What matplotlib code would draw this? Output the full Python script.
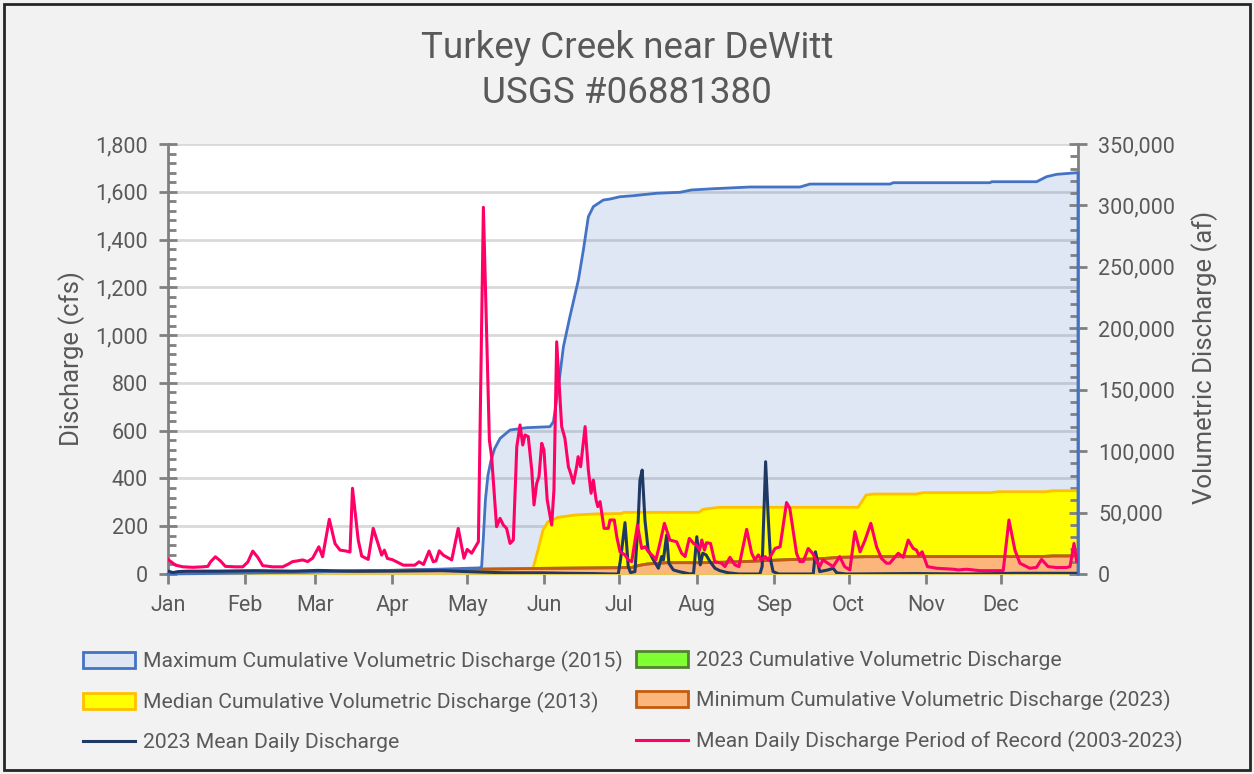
import matplotlib
matplotlib.use("Agg")
import matplotlib.pyplot as plt
from matplotlib.patches import Patch, Rectangle
from matplotlib.lines import Line2D
from matplotlib.ticker import MultipleLocator, FuncFormatter

plt.rcParams['font.family'] = ['Roboto', 'DejaVu Sans']

# ---- data (day of year from Jan 1, value) ----
month_labels = ["Jan", "Feb", "Mar", "Apr", "May", "Jun",
                "Jul", "Aug", "Sep", "Oct", "Nov", "Dec"]
month_start_days = [0, 31, 59, 90, 120, 151, 181, 212, 243, 273, 304, 334]

# Maximum cumulative volumetric discharge, 2015 (af)
max_cum_days = [0, 31, 59, 90, 110, 125, 125.8, 126.5, 127.3, 128.3, 129.5, 131,
                133.2, 137.2, 143.9, 153.2, 154.6, 156.6, 158.6, 161.2, 164.6,
                166.6, 168.6, 170.6, 174.6, 177.3, 181.3, 186.6, 189.3, 196, 205.4,
                210, 218.7, 233.4, 253.5, 257.5, 289.6, 290.9, 329.7, 330.4, 348.4,
                352.4, 356.4, 365]
max_cum_af = [0, 800, 1800, 3000, 4000, 5000, 5900, 30000, 60000, 80000, 92000, 102000,
              110400, 117200, 119100, 119900, 124000, 152500, 185000, 209400, 239300,
              263700, 290800, 299000, 304400, 305200, 307100, 307900, 308500, 309900, 310700,
              312600, 313600, 315000, 315000, 317400, 317400, 318500, 318500, 319300, 319300,
              323400, 325300, 326700]

# Median cumulative volumetric discharge, 2013 (af)
median_cum_days = [0, 31, 59, 90, 120, 146.4, 148.4, 150.4, 152.4, 156.4, 163.1, 172.5,
                   181.7, 183, 213, 214.5, 221, 276.8, 280, 283, 300, 303, 330, 333,
                   352, 355, 365]
median_cum_af = [0, 900, 1900, 3000, 4000, 4600, 19500, 35800, 42600, 46100, 48000, 49000,
                 49200, 50200, 50200, 52600, 54300, 54300, 64300, 65100, 65100, 66200, 66200,
                 67000, 67000, 67800, 67800]

# Minimum cumulative volumetric discharge (2023) -- also the 2023 cumulative series
min_cum_days = [0, 31, 59, 90, 120, 150, 180, 186, 189, 192, 200, 215, 230, 245, 262,
                270, 280, 350, 355, 365]
min_cum_af = [0, 900, 1800, 2800, 3800, 4600, 5100, 5300, 7000, 8100, 9200, 9200, 10000,
              11400, 12500, 13600, 14100, 14200, 14700, 14700]
cum_2023_days = list(min_cum_days)
cum_2023_af = list(min_cum_af)

# 2023 mean daily discharge (cfs)
daily_2023_days = [0, 2, 4, 8, 20, 35, 50, 60, 75, 90, 110, 120, 126, 135, 150, 160, 170,
                   178, 180.6, 181.5, 183.3, 184.6, 185.5, 187.3, 188.6, 189.3, 190.2, 191.3,
                   192.6, 194.7, 196.7, 198, 198.7, 200, 200.9, 202.7, 205, 209.4, 210.8,
                   212.1, 213.5, 214.5, 215.8, 217.4, 219.4, 221.3, 224.7, 229, 237.4, 238.3,
                   239.7, 240.8, 241.7, 242.7, 245, 258.8, 259.7, 261.4, 264.7, 266.8, 268.2,
                   272, 300, 320, 340, 364]
daily_2023_cfs = [12, 6, 10, 12, 12, 14, 12, 15, 12, 12, 14, 10, 8, 5, 5, 3, 2,
                  0, 0, 60, 215, 31, 6, 10, 226, 393, 435, 226,
                  100, 59, 24, 73, 59, 163, 45, 17, 10, 0, 3,
                  156, 38, 87, 80, 52, 24, 14, 5, 0, 0, 31,
                  470, 226, 59, 10, 0, 0, 93, 10, 17, 24, 5,
                  0, 2, 0, 3, 3]

# Mean daily discharge, period of record 2003-2023 (cfs)
por_days = [0, 3, 6, 10, 14, 16, 17, 19, 21, 23, 27, 30, 32, 34, 36, 38, 42, 46, 48, 50,
            52, 54, 56, 58, 60.5, 62, 64.7, 67, 69, 71.5, 73, 74, 76.3, 77.7, 80.3, 82.3,
            85.7, 86.8, 88, 90, 91.7, 94.4, 99, 100.7, 102.5, 104.7, 106.4, 107.5, 108.8,
            110.4, 113.8, 116.4, 118.7, 120, 121.8, 124.5, 126.5, 128.9, 129.8, 131.8, 133.2,
            134.5, 135.8, 137.2, 138.5, 139.9, 141.2, 142.3, 143.2, 144.5, 145.9, 146.8,
            147.9, 148.8, 149.9, 150.8, 152.1, 153.9, 154.8, 155.9, 157.9, 159.2, 160.6,
            161.5, 162.6, 163.9, 164.5, 165.5, 167.3, 168.6, 169.7, 170.6, 171.7, 172.4,
            173.3, 174.9, 176.6, 177.3, 179, 180, 181.3, 183.3, 184.6, 186, 188.3, 190,
            191.4, 192.7, 194.7, 195.7, 197.3, 199.1, 200, 201.3, 204, 206, 207.4, 209.1,
            210.8, 212, 213.2, 214.1, 215.2, 216, 217.6, 219.3, 222, 223.4, 225.4, 227.4,
            229, 232.1, 234.1, 235.4, 236.8, 238, 239.5, 240.8, 243.5, 245.5, 248.1, 249.4,
            252.1, 253.4, 254.8, 256.8, 258.5, 261.4, 262.7, 264.7, 266.8, 269.4, 271.4,
            273.5, 275.5, 277.6, 279.6, 281.9, 284.2, 286.2, 288.2, 289.5, 291.5, 292.9,
            294.9, 296.9, 298.9, 300.2, 301.2, 302.5, 304.6, 308.3, 315, 317, 320.3, 325.6,
            335, 337.3, 339.7, 341.7, 345.7, 348.4, 350.4, 353, 356.4, 360.4, 361.8, 363.4,
            364.5]
por_cfs = [61, 37, 30, 28, 30, 32, 50, 72, 55, 32, 30, 30, 50, 96, 70, 35, 30, 30, 40, 52,
           55, 59, 52, 66, 114, 72, 229, 127, 100, 96, 92, 359, 142, 75, 61, 191,
           79, 100, 65, 60, 51, 37, 37, 51, 40, 96, 51, 55, 97,
           79, 59, 191, 66, 103, 87, 135, 1535, 561, 491, 198, 233,
           205, 191, 128, 142, 533, 624, 540, 582, 575, 435, 289,
           380, 408, 547, 519, 310, 205, 352, 972, 617, 568, 449,
           421, 380, 449, 491, 449, 617, 435, 338, 393, 310, 282,
           303, 191, 191, 226, 226, 156, 93, 80, 59, 52, 205, 107,
           114, 93, 73, 59, 128, 212, 184, 142, 135, 87, 73, 149,
           128, 121, 100, 142, 100, 131, 128, 52, 45, 31, 70, 38,
           31, 187, 87, 59, 80, 59, 73, 59, 107, 114, 299, 275,
           87, 52, 52, 107, 87, 31, 59, 45, 31, 73, 31,
           17, 177, 93, 142, 212, 114, 65, 45, 45, 70, 87,
           70, 142, 107, 100, 79, 93, 31, 24, 20, 17, 20, 14,
           14, 226, 100, 45, 24, 28, 61, 31, 27, 27, 31, 128,
           52]

# ---- styling ----
TEXT = "#595959"
AXIS = "#808080"
GRID = "#d9d9d9"
BLUE, BLUE_FILL = "#4472c4", "#4472c4"
YELLOW, YELLOW_EDGE = "#ffff00", "#ffc000"
ORANGE, ORANGE_EDGE = "#fcb67c", "#c55a11"
GREEN, GREEN_EDGE = "#80ff33", "#548235"
NAVY = "#203864"
PINK = "#ff0066"

W, H = 1254, 774
fig = plt.figure(figsize=(W / 100, H / 100), dpi=100, facecolor="#f2f2f2")

ax_l, ax_r, ax_b, ax_t = 168 / W, 1078 / W, 1 - 574 / H, 1 - 144 / H
ax = fig.add_axes([ax_l, ax_b, ax_r - ax_l, ax_t - ax_b])     # cfs scale, grid
ax.set_facecolor("white")
ax_af = ax.twinx()                                              # af scale, areas
ax_ln = ax.twinx()                                              # cfs scale, lines

for a in (ax, ax_ln):
    a.set_ylim(0, 1800)
ax_af.set_ylim(0, 350000)
for a in (ax, ax_af, ax_ln):
    a.set_xlim(0, 365)

# grid on the cfs axis
ax.yaxis.set_major_locator(MultipleLocator(200))
ax.yaxis.set_minor_locator(MultipleLocator(40))
ax.grid(axis="y", which="major", color=GRID, lw=2)
ax.set_axisbelow(True)

# cumulative areas
ax_af.fill_between(max_cum_days, max_cum_af, color=BLUE_FILL, alpha=0.17, lw=0)
ax_af.plot(max_cum_days + [max_cum_days[-1]], max_cum_af + [0], color=BLUE, lw=2,
           clip_on=False, zorder=3)
ax_af.fill_between(cum_2023_days, cum_2023_af, color=GREEN, lw=0)
ax_af.plot(cum_2023_days, cum_2023_af, color=GREEN_EDGE, lw=2)
ax_af.fill_between(median_cum_days, median_cum_af, color=YELLOW, lw=0)
ax_af.plot(median_cum_days, median_cum_af, color=YELLOW_EDGE, lw=2)
ax_af.fill_between(min_cum_days, min_cum_af, color=ORANGE, lw=0)
ax_af.plot(min_cum_days, min_cum_af, color=ORANGE_EDGE, lw=2)

# daily discharge lines
ax_ln.plot(daily_2023_days, daily_2023_cfs, color=NAVY, lw=2.2)
ax_ln.plot(por_days, por_cfs, color=PINK, lw=2.2)

# axes cosmetics
TICK_FS = 15.5
thousands = FuncFormatter(lambda v, p: f"{v:,.0f}")
ax.yaxis.set_major_formatter(thousands)
ax.tick_params(axis="y", which="major", direction="inout", length=13, width=2,
               color=AXIS, labelsize=TICK_FS, labelcolor=TEXT, pad=8)
ax.tick_params(axis="y", which="minor", direction="in", length=6, width=2, color=AXIS)
ax.set_xticks(month_start_days)
ax.set_xticklabels(month_labels)
ax.tick_params(axis="x", which="major", direction="out", length=7, width=2,
               color=AXIS, labelsize=TICK_FS, labelcolor=TEXT, pad=8)

ax_af.yaxis.set_major_locator(MultipleLocator(50000))
ax_af.yaxis.set_minor_locator(MultipleLocator(10000))
ax_af.yaxis.set_major_formatter(thousands)
ax_af.tick_params(axis="y", which="major", direction="inout", length=13, width=2,
                  color=AXIS, labelsize=TICK_FS, labelcolor=TEXT, pad=8)
ax_af.tick_params(axis="y", which="minor", direction="in", length=6, width=2, color=AXIS)

ax_ln.set_yticks([])
for a in (ax, ax_af, ax_ln):
    for s in a.spines.values():
        s.set_visible(False)
ax.spines["left"].set_visible(True)
ax.spines["left"].set_color(AXIS)
ax.spines["left"].set_linewidth(2)
ax.spines["bottom"].set_visible(True)
ax.spines["bottom"].set_color(AXIS)
ax.spines["bottom"].set_linewidth(1.5)
ax_af.spines["right"].set_visible(True)
ax_af.spines["right"].set_color(AXIS)
ax_af.spines["right"].set_linewidth(2)

# titles and axis labels
fig.text(0.5, 1 - 48 / H, "Turkey Creek near DeWitt", ha="center", va="center",
         fontsize=26.5, color=TEXT)
fig.text(0.5, 1 - 93 / H, "USGS #06881380", ha="center", va="center",
         fontsize=26.5, color=TEXT)
fig.text(72 / W, 1 - 359 / H, "Discharge (cfs)", rotation=90, ha="center", va="center",
         fontsize=18.5, color=TEXT)
fig.text(1205 / W, 1 - 357 / H, "Volumetric Discharge (af)", rotation=90, ha="center",
         va="center", fontsize=18.5, color=TEXT)

# legend
h_max = Patch(facecolor="#dfe5f2", edgecolor=BLUE, lw=2,
              label="Maximum Cumulative Volumetric Discharge (2015)")
h_med = Patch(facecolor=YELLOW, edgecolor=YELLOW_EDGE, lw=2,
              label="Median Cumulative Volumetric Discharge (2013)")
h_d23 = Line2D([], [], color=NAVY, lw=2.2, label="2023 Mean Daily Discharge")
h_c23 = Patch(facecolor=GREEN, edgecolor=GREEN_EDGE, lw=2,
              label="2023 Cumulative Volumetric Discharge")
h_min = Patch(facecolor=ORANGE, edgecolor=ORANGE_EDGE, lw=2,
              label="Minimum Cumulative Volumetric Discharge (2023)")
h_por = Line2D([], [], color=PINK, lw=2.2,
               label="Mean Daily Discharge Period of Record (2003-2023)")

leg_kw = dict(loc="upper left", frameon=False, fontsize=15.2, handlelength=2.46,
              handleheight=0.76, handletextpad=0.38, labelspacing=0.95,
              borderpad=0, borderaxespad=0, labelcolor=TEXT)
fig.legend(handles=[h_max, h_med, h_d23], bbox_to_anchor=(83 / W, 1 - 651 / H), **leg_kw)
fig.legend(handles=[h_c23, h_min, h_por], bbox_to_anchor=(636 / W, 1 - 651 / H), **leg_kw)

# outer frame
fig.add_artist(Rectangle((4 / W, 4 / H), 1 - 8 / W, 1 - 8 / H, transform=fig.transFigure,
                         fill=False, edgecolor="#262626", lw=2))

fig.savefig("out.png", dpi=100, facecolor=fig.get_facecolor())
